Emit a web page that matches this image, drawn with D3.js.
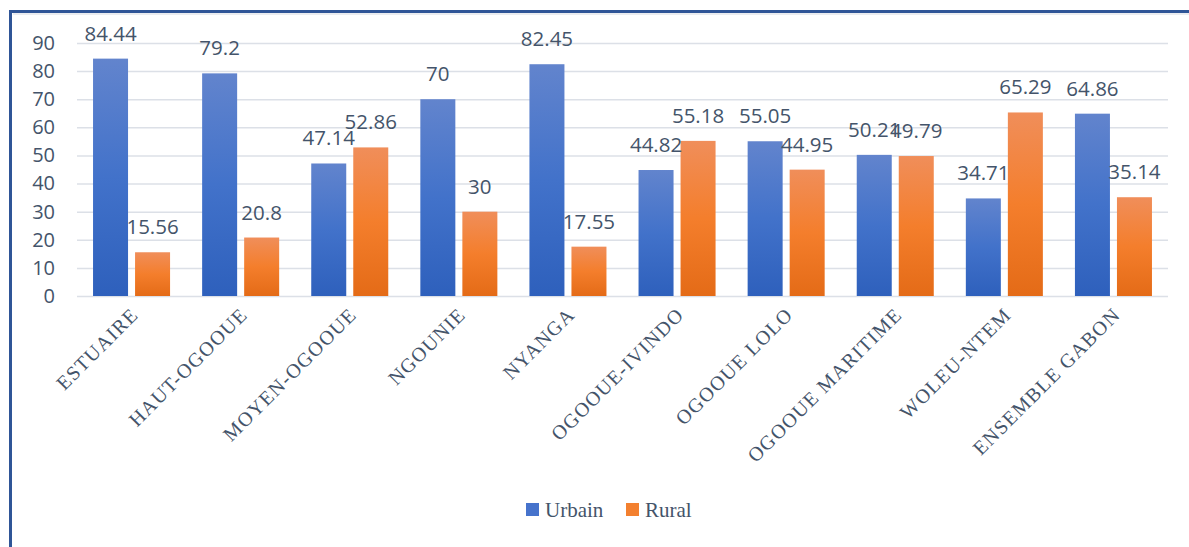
<!DOCTYPE html>
<html>
<head>
<meta charset="utf-8">
<script src="https://cdn.jsdelivr.net/npm/d3@7"></script>
<style>
  body { margin: 0; background: #fff; }
  svg { display: block; }
</style>
</head>
<body>
<div id="chart"></div>
<script>

var categories = ["ESTUAIRE", "HAUT-OGOOUE", "MOYEN-OGOOUE", "NGOUNIE", "NYANGA", "OGOOUE-IVINDO", "OGOOUE LOLO", "OGOOUE MARITIME", "WOLEU-NTEM", "ENSEMBLE GABON"];
var urbain = [84.44, 79.2, 47.14, 70, 82.45, 44.82, 55.05, 50.21, 34.71, 64.86];
var rural = [15.56, 20.8, 52.86, 30, 17.55, 55.18, 44.95, 49.79, 65.29, 35.14];
var seriesNames = ["Urbain", "Rural"];
var yTicks = [0, 10, 20, 30, 40, 50, 60, 70, 80, 90];

var svgWidth = 1189, svgHeight = 547;
var textColor = "#44546A";

var svg = d3.select("#chart").append("svg")
    .attr("width", svgWidth)
    .attr("height", svgHeight);

// gradients for the bars
var defs = svg.append("defs");
var gradBlue = defs.append("linearGradient").attr("id", "gBlue")
    .attr("x1", 0).attr("y1", 0).attr("x2", 0).attr("y2", 1);
gradBlue.append("stop").attr("offset", "0%").attr("stop-color", "#6284CD");
gradBlue.append("stop").attr("offset", "50%").attr("stop-color", "#4272CA");
gradBlue.append("stop").attr("offset", "100%").attr("stop-color", "#2E60BC");
var gradOrange = defs.append("linearGradient").attr("id", "gOrange")
    .attr("x1", 0).attr("y1", 0).attr("x2", 0).attr("y2", 1);
gradOrange.append("stop").attr("offset", "0%").attr("stop-color", "#F08E5A");
gradOrange.append("stop").attr("offset", "50%").attr("stop-color", "#F47E2C");
gradOrange.append("stop").attr("offset", "100%").attr("stop-color", "#E46B17");

var fills = { Urbain: "url(#gBlue)", Rural: "url(#gOrange)" };
var legendFills = { Urbain: "#4673CC", Rural: "#F3802F" };

// frame (only top and left are visible in the picture)
svg.append("line").attr("x1", 10.5).attr("y1", 11.5).attr("x2", svgWidth).attr("y2", 11.5)
    .attr("stroke", "#2F5597").attr("stroke-width", 3);
svg.append("line").attr("x1", 13).attr("y1", 14).attr("x2", svgWidth).attr("y2", 14)
    .attr("stroke", "#E3E6EB").attr("stroke-width", 1.5);
svg.append("line").attr("x1", 10.5).attr("y1", 10).attr("x2", 10.5).attr("y2", svgHeight)
    .attr("stroke", "#2F5597").attr("stroke-width", 3);

var plotLeft = 77, plotRight = 1168, plotTop = 43, plotBottom = 296;

var x = d3.scaleBand().domain(categories).range([plotLeft, plotRight])
    .paddingInner(0.294).paddingOuter(0.147);
var xSub = d3.scaleBand().domain(seriesNames).range([0, x.bandwidth()])
    .paddingInner(0.167);
var y = d3.scaleLinear().domain([0, 90]).range([plotBottom, plotTop]);

// gridlines
var grid = svg.append("g")
    .attr("transform", "translate(" + plotLeft + ",0)")
    .call(d3.axisLeft(y).tickValues(yTicks).tickSize(-(plotRight - plotLeft)).tickFormat(""));
grid.select(".domain").remove();
grid.selectAll("line").attr("stroke", "#DCE0E7").attr("stroke-width", 1.5);

// y axis labels
var yAxis = svg.append("g")
    .attr("transform", "translate(55,0)")
    .call(d3.axisLeft(y).tickValues(yTicks).tickSize(0).tickPadding(0));
yAxis.select(".domain").remove();
yAxis.selectAll("text")
    .attr("fill", textColor)
    .style("font-family", "'Open Sans', sans-serif")
    .style("font-size", "20px");

// x axis labels
var xAxis = svg.append("g")
    .attr("transform", "translate(0," + plotBottom + ")")
    .call(d3.axisBottom(x).tickSize(0).tickPadding(0));
xAxis.select(".domain").remove();
xAxis.selectAll("text")
    .attr("fill", textColor)
    .style("font-family", "'Liberation Serif', serif")
    .style("font-size", "20px")
    .style("letter-spacing", "1.2px")
    .style("text-anchor", "end")
    .attr("dy", "0")
    .attr("transform", "translate(8,20) rotate(-45)");

// table for bars
var rows = categories.map(function(c, i) {
    return { cat: c, values: [ { key: "Urbain", value: urbain[i] }, { key: "Rural", value: rural[i] } ] };
});

var groups = svg.selectAll(".grp").data(rows).enter().append("g")
    .attr("class", "grp")
    .attr("transform", function(d) { return "translate(" + x(d.cat) + ",0)"; });

groups.selectAll("rect").data(function(d) { return d.values; }).enter().append("rect")
    .attr("x", function(d) { return xSub(d.key); })
    .attr("width", xSub.bandwidth())
    .attr("y", function(d) { return y(d.value); })
    .attr("height", function(d) { return y(0) - y(d.value); })
    .attr("fill", function(d) { return fills[d.key]; });

groups.selectAll("text.val").data(function(d) { return d.values; }).enter().append("text")
    .attr("class", "val")
    .attr("x", function(d) { return xSub(d.key) + xSub.bandwidth() / 2; })
    .attr("y", function(d) { return y(d.value) - 18; })
    .attr("text-anchor", "middle")
    .attr("fill", textColor)
    .style("font-family", "'Open Sans', sans-serif")
    .style("font-size", "20.5px")
    .text(function(d) { return d.value; });

// legend
var legendX = [526, 626];
var legend = svg.selectAll(".leg").data(seriesNames).enter().append("g")
    .attr("class", "leg")
    .attr("transform", function(d, i) { return "translate(" + legendX[i] + ",503)"; });
legend.append("rect").attr("width", 13).attr("height", 13)
    .attr("fill", function(d) { return legendFills[d]; });
legend.append("text").attr("x", 19).attr("y", 14)
    .attr("fill", textColor)
    .style("font-family", "'Liberation Serif', serif")
    .style("font-size", "21px")
    .text(function(d) { return d; });

</script>
</body>
</html>
